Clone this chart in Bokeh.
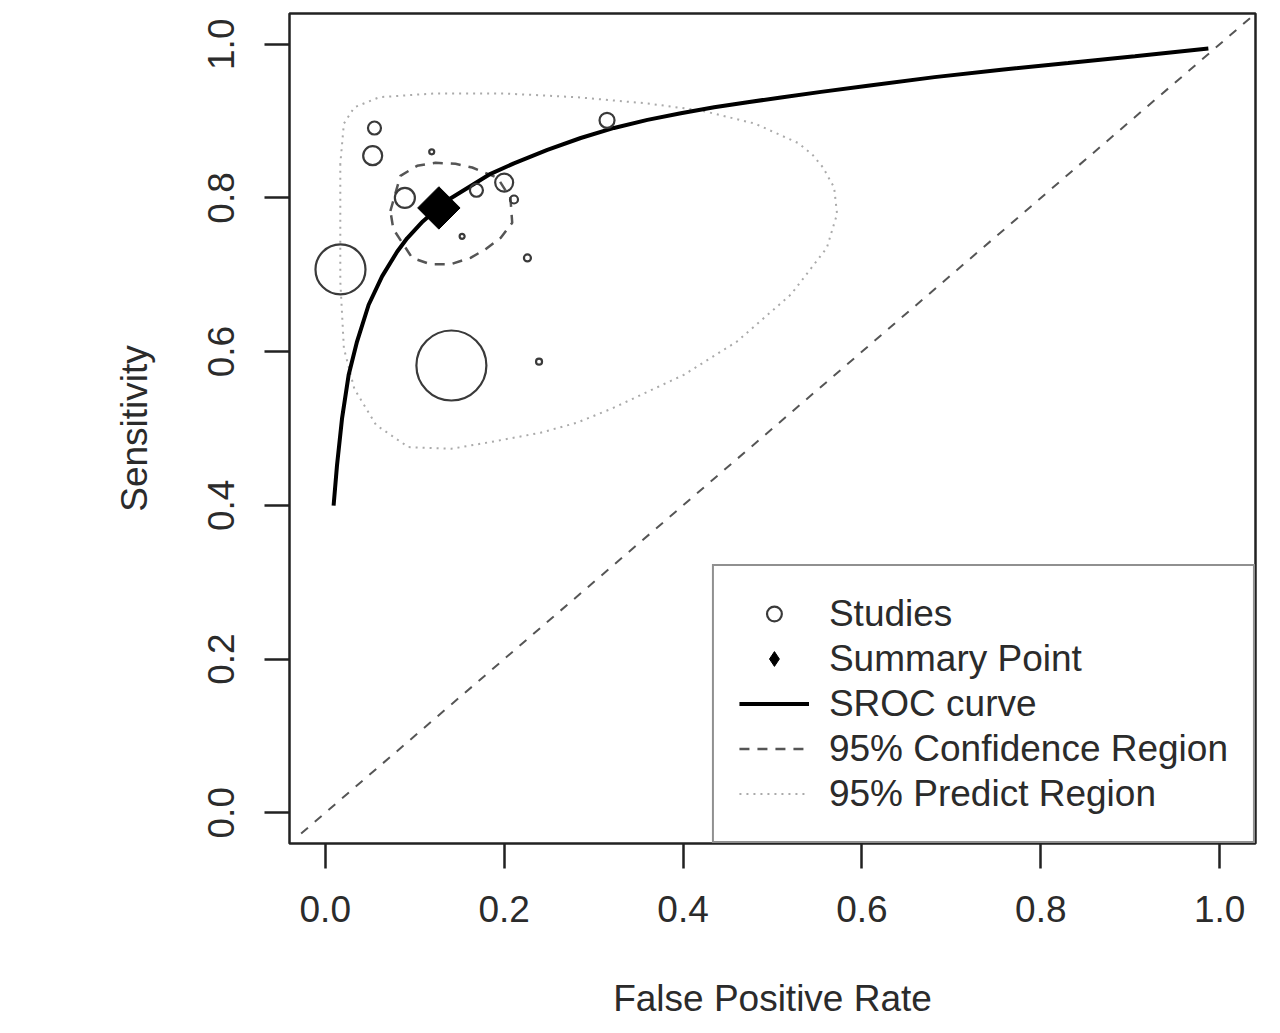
from bokeh.plotting import figure
from bokeh.models import Range1d, FixedTicker, NumeralTickFormatter, Legend, LegendItem
from bokeh.embed import file_html
from bokeh.resources import INLINE

# values
ticks = [0.0, 0.2, 0.4, 0.6, 0.8, 1.0]

# studies (false positive rate, sensitivity, circle diameter ~ study weight)
study_fpr = [0.055, 0.053, 0.089, 0.017, 0.141, 0.169, 0.200, 0.211, 0.153, 0.226, 0.239, 0.315, 0.119]
study_sens = [0.891, 0.855, 0.800, 0.707, 0.582, 0.810, 0.820, 0.798, 0.750, 0.722, 0.587, 0.901, 0.860]
study_size = [13, 19, 20, 50, 70, 13, 18, 8, 5, 7, 6, 15, 5]

# summary point
summ_fpr = [0.127]
summ_sens = [0.787]

# SROC curve
sroc_fpr = [0.0093, 0.0131, 0.0187, 0.0261, 0.0355, 0.0485, 0.0635, 0.0803, 0.0915, 0.109,
            0.1265, 0.1408, 0.1848, 0.2109, 0.2483, 0.2856, 0.3228, 0.3602, 0.3975, 0.4348,
            0.4722, 0.5095, 0.5543, 0.6066, 0.6812, 0.7559, 0.8306, 0.9052, 0.9873]
sroc_sens = [0.3996, 0.4519, 0.5128, 0.5695, 0.6131, 0.6610, 0.6980, 0.7300, 0.7475, 0.7695,
             0.7873, 0.8000, 0.8314, 0.8450, 0.8625, 0.8780, 0.8911, 0.9016, 0.9102, 0.9180,
             0.9245, 0.9308, 0.9380, 0.9460, 0.9572, 0.9669, 0.9755, 0.9843, 0.9944]

# 95% confidence region
conf_fpr = [0.0728, 0.0840, 0.1027, 0.1232, 0.1456, 0.1643, 0.1926, 0.2070, 0.2090, 0.1960,
            0.1792, 0.1624, 0.1400, 0.1176, 0.0971, 0.0761, 0.0728]
conf_sens = [0.7830, 0.8288, 0.8418, 0.8458, 0.8444, 0.8396, 0.8261, 0.8000, 0.7677, 0.7480,
             0.7333, 0.7220, 0.7137, 0.7137, 0.7220, 0.7595, 0.7830]

# 95% prediction region
pred_fpr = [0.0168, 0.0168, 0.0168, 0.0208, 0.0325, 0.0568, 0.0929, 0.1408, 0.1848, 0.2408,
            0.2811, 0.3203, 0.4009, 0.4602, 0.5207, 0.5607, 0.5722, 0.5689, 0.5565, 0.5445,
            0.5286, 0.4804, 0.4207, 0.3606, 0.2811, 0.2004, 0.1209, 0.0605, 0.0325, 0.0208,
            0.0168]
pred_sens = [0.8444, 0.7791, 0.6915, 0.6043, 0.5516, 0.5046, 0.4758, 0.4736, 0.4824, 0.4945,
             0.5075, 0.5259, 0.5699, 0.6131, 0.6745, 0.7350, 0.7791, 0.8135, 0.8396, 0.8565,
             0.8715, 0.8967, 0.9137, 0.9229, 0.9311, 0.9359, 0.9359, 0.9311, 0.9180, 0.8967,
             0.8444]

# chance line
diag_x = [-0.027, 1.04]
diag_y = [-0.027, 1.04]

FONT = "Liberation Sans"
TXT = "#2b2b2b"

p = figure(width=1265, height=1023,
           x_range=Range1d(-0.04, 1.04), y_range=Range1d(-0.04, 1.04),
           x_axis_label="False Positive Rate", y_axis_label="Sensitivity",
           min_border_left=289, min_border_right=10, min_border_top=13, min_border_bottom=180,
           output_backend="svg", toolbar_location=None)
p.grid.visible = False
p.outline_line_color = "#222222"
p.outline_line_width = 2.5

for ax in (p.xaxis[0], p.yaxis[0]):
    ax.ticker = FixedTicker(ticks=ticks)
    ax.formatter = NumeralTickFormatter(format="0.0")
    ax.axis_line_color = None
    ax.major_tick_out = 25
    ax.major_tick_in = 0
    ax.minor_tick_out = 0
    ax.minor_tick_in = 0
    ax.major_tick_line_color = "#222222"
    ax.major_tick_line_width = 2.5
    ax.major_label_text_font = FONT
    ax.major_label_text_font_size = "37px"
    ax.major_label_text_color = TXT
    ax.axis_label_text_font = FONT
    ax.axis_label_text_font_size = "37px"
    ax.axis_label_text_font_style = "normal"
    ax.axis_label_text_color = TXT

p.xaxis.major_label_standoff = 27
p.xaxis.axis_label_standoff = 53
p.yaxis.major_label_orientation = "vertical"
p.yaxis.major_label_standoff = 30
p.yaxis.axis_label_standoff = 51

p.line(diag_x, diag_y, line_color="#555555", line_width=2, line_dash="9 9")

r_pred = p.line(pred_fpr, pred_sens, line_color="#aaaaaa", line_width=2, line_dash="2 5")
r_conf = p.line(conf_fpr, conf_sens, line_color="#555555", line_width=2.5, line_dash="10 8")
r_sroc = p.line(sroc_fpr, sroc_sens, line_color="black", line_width=4)

r_studies = p.scatter(study_fpr, study_sens, size=study_size, marker="circle",
                      fill_color=None, line_color="#3a3a3a", line_width=2.2)

# legend key for the summary point (hidden under the big marker)
r_summ_key = p.scatter(summ_fpr, summ_sens, size=8, marker="diamond",
                       fill_color="black", line_color="black")
p.scatter(summ_fpr, summ_sens, size=30, marker="square", angle=0.785398,
          fill_color="black", line_color="black")

legend = Legend(items=[
    LegendItem(label="Studies", renderers=[r_studies]),
    LegendItem(label="Summary Point", renderers=[r_summ_key]),
    LegendItem(label="SROC curve", renderers=[r_sroc]),
    LegendItem(label="95% Confidence Region", renderers=[r_conf]),
    LegendItem(label="95% Predict Region", renderers=[r_pred]),
], location="bottom_right", margin=0, padding=25, spacing=0,
    glyph_width=70, glyph_height=37, label_height=45, label_standoff=20,
    label_text_font=FONT, label_text_font_size="37px", label_text_color=TXT,
    border_line_color="#222222", border_line_width=2.5,
    background_fill_color="white", background_fill_alpha=1.0)
p.add_layout(legend)

open("out.html", "w").write(file_html(p, INLINE))
